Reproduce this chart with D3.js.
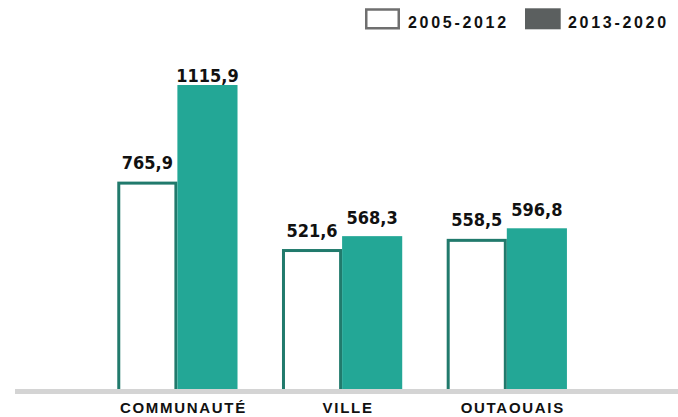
<!DOCTYPE html>
<html>
<head>
<meta charset="utf-8">
<script src="https://cdn.jsdelivr.net/npm/d3@7"></script>
<style>
  html, body { margin: 0; padding: 0; background: #fff; }
  svg { display: block; }
  .val { font-family: "DejaVu Sans Condensed", "DejaVu Sans", sans-serif; font-stretch: condensed; }
</style>
</head>
<body>
<svg id="chart" width="678" height="417"></svg>
<script>
// Regions and the two periods compared
const categories = ["COMMUNAUTÉ", "VILLE", "OUTAOUAIS"];
const periods = ["2005-2012", "2013-2020"];
const values2005_2012 = [765.9, 521.6, 558.5];
const values2013_2020 = [1115.9, 568.3, 596.8];

const fmt = v => d3.format(".1f")(v).replace(".", ",");

const svg = d3.select("#chart");
const W = 678;

const teal = "#23a796";
const tealDark = "#217a6c";

const x = d3.scaleBand().domain(categories).range([72.8, 611.4]).padding(0.27);
const xs = d3.scaleBand().domain(periods).range([0, x.bandwidth()]);
const y = d3.scaleLinear().domain([0, 1200]).range([393, 61.8]);

const rows = categories.map((c, i) => ({
  cat: c,
  vals: [
    { p: periods[0], v: values2005_2012[i] },
    { p: periods[1], v: values2013_2020[i] }
  ]
}));

const g = svg.append("g")
  .selectAll("g")
  .data(rows)
  .join("g")
  .attr("transform", d => `translate(${x(d.cat)},0)`);

// earlier period: outlined bar (outer edge sits on the value)
const sw = 3;
g.append("rect")
  .attr("x", xs(periods[0]) + sw / 2)
  .attr("y", d => y(d.vals[0].v) + sw / 2)
  .attr("width", xs.bandwidth() - sw)
  .attr("height", d => y(0) - y(d.vals[0].v) - sw)
  .attr("fill", "#fff")
  .attr("stroke", tealDark)
  .attr("stroke-width", sw);

// later period: filled bar
g.append("rect")
  .attr("x", xs(periods[1]))
  .attr("y", d => y(d.vals[1].v))
  .attr("width", xs.bandwidth())
  .attr("height", d => y(0) - y(d.vals[1].v))
  .attr("fill", teal);

// value labels
g.selectAll("text.val")
  .data(d => d.vals)
  .join("text")
  .attr("class", "val")
  .attr("x", d => xs(d.p) + xs.bandwidth() / 2)
  .attr("y", d => Math.max(y(d.v) - 12.5, 82))
  .attr("text-anchor", "middle")
  .attr("font-weight", "bold")
  .attr("font-size", 18)
  .attr("fill", "#111")
  .text(d => fmt(d.v));

// baseline
svg.append("rect")
  .attr("x", 15).attr("y", 389)
  .attr("width", W - 15).attr("height", 5)
  .attr("fill", "#d4d4d4");

// category axis
const xAxis = svg.append("g")
  .attr("transform", "translate(6,0)")
  .call(d3.axisBottom(x).tickSize(0).tickPadding(0));
xAxis.select(".domain").remove();
xAxis.selectAll("text")
  .attr("y", 412.5)
  .attr("dy", 0)
  .attr("font-family", "Liberation Sans, Arial, sans-serif")
  .attr("font-weight", "bold")
  .attr("font-size", 15)
  .attr("letter-spacing", 1.7)
  .attr("fill", "#111");

// legend
const legend = svg.append("g");
legend.append("rect")
  .attr("x", 366.25).attr("y", 9.5)
  .attr("width", 32.5).attr("height", 18.75)
  .attr("fill", "#fff").attr("stroke", "#6f6f6f").attr("stroke-width", 2.5);
legend.append("rect")
  .attr("x", 525).attr("y", 8.3)
  .attr("width", 35.7).attr("height", 21)
  .attr("fill", "#5b5f5f");
legend.selectAll("text")
  .data([{ t: periods[0], x: 408 }, { t: periods[1], x: 568 }])
  .join("text")
  .attr("x", d => d.x)
  .attr("y", 28.3)
  .attr("font-family", "Liberation Sans, Arial, sans-serif")
  .attr("font-weight", "bold")
  .attr("font-size", 16)
  .attr("letter-spacing", 2.7)
  .attr("fill", "#111")
  .text(d => d.t);
</script>
</body>
</html>
